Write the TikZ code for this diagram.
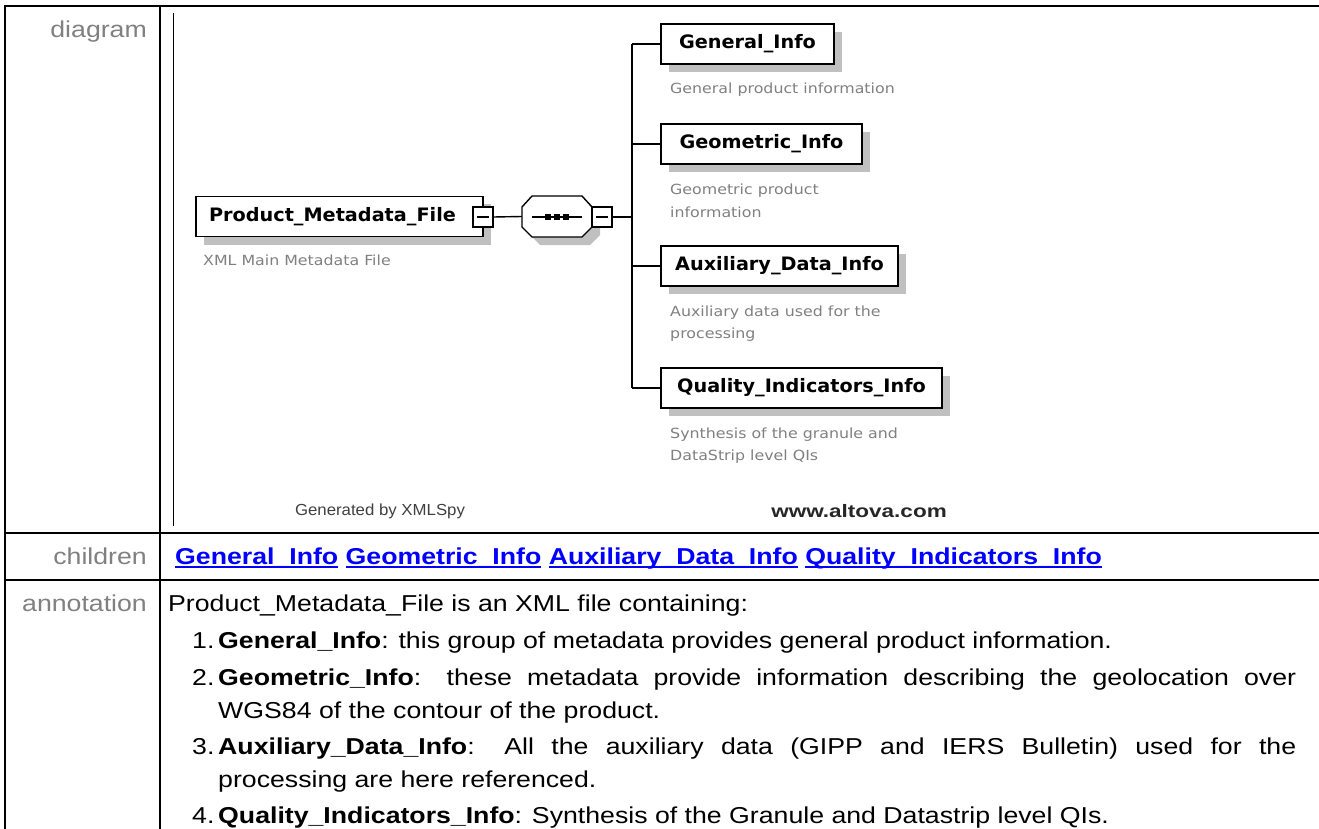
\documentclass[tikz,border=0pt]{standalone}
\usepackage{fontspec}
\usetikzlibrary{shadows}
\newfontfamily\tabf[FakeStretch=1.16]{Liberation Sans}
\newfontfamily\genf[FakeStretch=1.05]{Liberation Sans}
\newfontfamily\altf[FakeStretch=1.25]{Liberation Sans}
\newfontfamily\xsf[FakeStretch=1.04]{DejaVu Sans}
\newfontfamily\xsdesc[FakeStretch=1.13]{DejaVu Sans}
\definecolor{labgray}{HTML}{808080}
\definecolor{descgray}{HTML}{808080}
\definecolor{shadegray}{HTML}{C0C0C0}
\definecolor{linkblue}{HTML}{0000FF}
\definecolor{gendark}{HTML}{404040}
\newcommand{\lnk}[1]{\setbox0\hbox{#1}\rlap{\rule[-3.8pt]{\wd0}{1.8pt}}\box0\relax}
\begin{document}
\begin{tikzpicture}[x=1pt,y=-1pt,
  tabline/.style={line width=2.2pt},
  lab/.style={anchor=base east, inner sep=0pt, text=labgray, font=\tabf\fontsize{23}{27}\selectfont},
  body/.style={anchor=base west, inner sep=0pt, font=\tabf\fontsize{23}{27}\selectfont},
  elem/.style={draw, line width=1.4pt, fill=white, inner sep=0pt, minimum height=40pt,
    font=\xsf\bfseries\fontsize{18.5}{21}\selectfont,
    drop shadow={shadow xshift=8pt, shadow yshift=-8pt, opacity=1, fill=shadegray, draw=none}},
  desc/.style={anchor=base west, inner sep=0pt, text=descgray, font=\xsdesc\fontsize{14}{17}\selectfont},
  btn/.style={draw, line width=1.2pt, fill=white, minimum size=20pt, inner sep=0pt},
  conn/.style={line width=1.4pt},
]
\useasboundingbox (0,0) rectangle (1319,829);

% table frame
\draw[tabline] (5,829) -- (5,6) -- (1319,6);
\draw[tabline] (160,6) -- (160,829);
\draw[tabline] (5,533) -- (1319,533);
\draw[tabline] (5,580) -- (1319,580);
\draw[line width=1pt] (173,13) -- (173,526);

% row labels
\node[lab] (ldiag) at (147,38) {diagram};
\node[lab] (lchild) at (147,564) {children};
\node[lab] (lannot) at (147,611) {annotation};

% root element
\node[elem, minimum width=287pt] (pmf) at (339.5,216.5) {Product\_Metadata\_File\hspace*{14pt}};
\node[btn] (pmfb) at (483,217) {};
\draw[line width=1.2pt] ([xshift=-6pt]pmfb.center) -- ([xshift=6pt]pmfb.center);
\node[desc] (pmfd) at (203,265) {XML Main Metadata File};

% sequence compositor
\node[minimum width=70pt, minimum height=41pt, inner sep=0pt] (seq) at (557,216.5) {};
\fill[shadegray] (530,215) -- (540,204) -- (590,204) -- (600,215) -- (600,235) -- (590,245) -- (540,245) -- (530,235) -- cycle;
\draw[line width=1.4pt, fill=white] (522,207) -- (532,196) -- (582,196) -- (592,207) -- (592,227) -- (582,237) -- (532,237) -- (522,227) -- cycle;
\draw[line width=1.4pt] (532,217) -- (582,217);
\foreach \dx in {548,557,566} \fill (\dx-3,214) rectangle (\dx+3,220);
\node[btn] (seqb) at (602,217) {};
\draw[line width=1.2pt] ([xshift=-6pt]seqb.center) -- ([xshift=6pt]seqb.center);
\draw[conn] (pmfb.east) -- (seq.west);

% bus
\coordinate (bus) at (632,217);
\coordinate (bustop) at (632,44);
\coordinate (busbot) at (632,388);
\draw[conn] (seqb.east) -- (bus);
\draw[conn] (bustop) -- (busbot);

% children
\node[elem, minimum width=173pt] (gen) at (747.5,44) {General\_Info};
\node[elem, minimum width=201pt] (geo) at (761.5,144) {Geometric\_Info};
\node[elem, minimum width=237pt] (aux) at (779.5,266) {Auxiliary\_Data\_Info};
\node[elem, minimum width=281pt] (qua) at (801.5,388) {Quality\_Indicators\_Info};
\foreach \n in {gen,geo,aux,qua} \draw[conn] (\n.west -| bus) -- (\n.west);

\node[desc] (gend) at (670,94) {General product information};
\node[desc] (geod1) at (670,194) {Geometric product};
\node[desc] (geod2) at (670,217) {information};
\node[desc] (auxd1) at (670,316) {Auxiliary data used for the};
\node[desc] (auxd2) at (670,338) {processing};
\node[desc] (quad1) at (670,438) {Synthesis of the granule and};
\node[desc] (quad2) at (670,460) {DataStrip level QIs};

% footer of diagram
\node[inner sep=0pt, text=gendark, font=\genf\fontsize{16}{18}\selectfont] (genby) at (380,511) {Generated by XMLSpy};
\node[inner sep=0pt, text=black!85, font=\altf\bfseries\fontsize{18}{20}\selectfont] (altova) at (859,511) {www.altova.com};

% children row
\node[body, font=\tabf\bfseries\fontsize{23}{27}\selectfont, text=linkblue] (kids) at (175,564)
  {\lnk{General\_Info} \lnk{Geometric\_Info} \lnk{Auxiliary\_Data\_Info} \lnk{Quality\_Indicators\_Info}};

% annotation
\node[body] (a0) at (168,611) {Product\_Metadata\_File is an XML file containing:};
\node[body] (n1) at (192,648) {1.};
\node[body] (t1) at (218,648) {\textbf{General\_Info}: this group of metadata provides general product information.};
\node[body] (n2) at (192,685) {2.};
\node[body] (t2) at (218,685) {\makebox[1078pt][s]{\textbf{Geometric\_Info}: these metadata provide information describing the geolocation over}};
\node[body] (t2b) at (218,718) {WGS84 of the contour of the product.};
\node[body] (n3) at (192,754) {3.};
\node[body] (t3) at (218,754) {\makebox[1078pt][s]{\textbf{Auxiliary\_Data\_Info}: All the auxiliary data (GIPP and IERS Bulletin) used for the}};
\node[body] (t3b) at (218,787) {processing are here referenced.};
\node[body] (n4) at (192,823) {4.};
\node[body] (t4) at (218,823) {\textbf{Quality\_Indicators\_Info}: Synthesis of the Granule and Datastrip level QIs.};
\end{tikzpicture}
\end{document}
